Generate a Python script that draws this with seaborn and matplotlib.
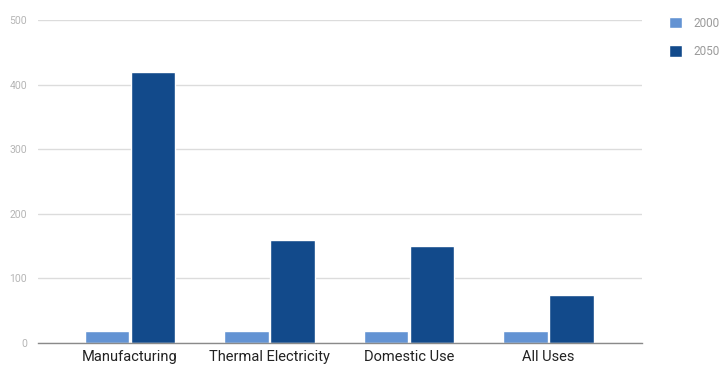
import matplotlib
matplotlib.use("Agg")
import matplotlib.pyplot as plt
import seaborn as sns
import pandas as pd

# Water use by sector (index values)
categories = ["Manufacturing", "Thermal Electricity", "Domestic Use", "All Uses"]
years = ["2000", "2050"]
values_2000 = [19, 19, 19, 19]
values_2050 = [420, 160, 150, 75]
y_ticks = [0, 100, 200, 300, 400, 500]

colors = {"2000": "#6393d3", "2050": "#124a8b"}

df = pd.DataFrame({
    "category": categories * 2,
    "year": [years[0]] * len(categories) + [years[1]] * len(categories),
    "value": values_2000 + values_2050,
})

sns.set_theme(style="white")
plt.rcParams["font.family"] = ["Roboto", "DejaVu Sans"]

fig = plt.figure(figsize=(7.22, 3.66), dpi=100)
ax = fig.add_axes([38 / 722, 1 - 343 / 366, (642 - 38) / 722, (343 - 20) / 366])

sns.barplot(data=df, x="category", y="value", hue="year", order=categories,
            hue_order=years, palette=colors, width=0.66, gap=0.035,
            saturation=1, ax=ax, zorder=3)

ax.set_xlim(-0.66, 3.67)
ax.set_ylim(0, 500)
ax.set_yticks(y_ticks)
ax.set_yticklabels([str(t) for t in y_ticks])
ax.set_xlabel("")
ax.set_ylabel("")

ax.grid(axis="y", color="#dcdcdc", linewidth=1.0, zorder=0)
ax.grid(axis="x", visible=False)
for side in ["top", "right", "left"]:
    ax.spines[side].set_visible(False)
ax.spines["bottom"].set_color("#8a8a8a")
ax.spines["bottom"].set_linewidth(1.0)
ax.spines["bottom"].set_zorder(4)

ax.tick_params(axis="y", length=0, pad=8, labelsize=7.5, labelcolor="#b5b5b5")
ax.tick_params(axis="x", length=0, pad=5, labelsize=10.5, labelcolor="#222222")

handles, labels = ax.get_legend_handles_labels()
ax.legend(handles, labels, loc="upper left",
          bbox_to_anchor=(664 / 722, 1 - 12 / 366), bbox_transform=fig.transFigure,
          frameon=False, handlelength=1.1, handleheight=1.1, handletextpad=1.0,
          labelspacing=1.3, fontsize=8.5, labelcolor="#9a9a9a", borderaxespad=0)

fig.savefig("out.png", dpi=100)
